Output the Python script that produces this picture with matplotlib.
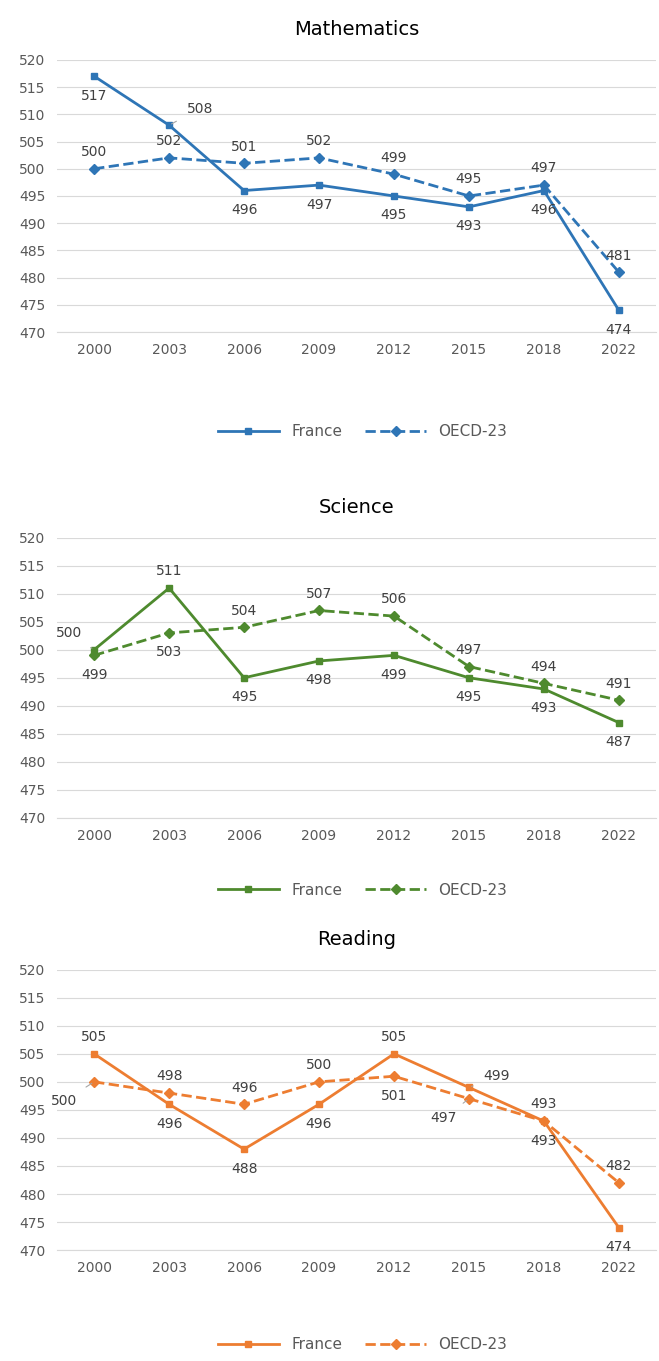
import matplotlib.pyplot as plt

years = ['2000', '2003', '2006', '2009', '2012', '2015', '2018', '2022']

math_france = [517, 508, 496, 497, 495, 493, 496, 474]
math_oecd = [500, 502, 501, 502, 499, 495, 497, 481]
sci_france = [500, 511, 495, 498, 499, 495, 493, 487]
sci_oecd = [499, 503, 504, 507, 506, 497, 494, 491]
read_france = [505, 496, 488, 496, 505, 499, 493, 474]
read_oecd = [500, 498, 496, 500, 501, 497, 493, 482]

# label offsets in points (dx, dy); leader line if 'lead'
math_fr_off = [(0, -14), (22, 12, 'lead'), (0, -14), (0, -14), (0, -14), (0, -14), (0, -14), (0, -14)]
math_oe_off = [(0, 12)] * 8
sci_fr_off = [(-18, 12, 'lead'), (0, 12), (0, -14), (0, -14), (0, -14), (0, -14), (0, -14), (0, -14)]
sci_oe_off = [(0, -14), (0, -14), (0, 12), (0, 12), (0, 12), (0, 12), (0, 12), (0, 12)]
read_fr_off = [(0, 12), (0, -14), (0, -14), (0, -14), (0, 12), (20, 8, 'lead'), (0, 12), (0, -14)]
read_oe_off = [(-22, -14, 'lead'), (0, 12), (0, 12), (0, 12), (0, -14), (-18, -14, 'lead'), (0, -14), (0, 12)]

panels = [
    ('Mathematics', math_france, math_oecd, '#2E75B6', math_fr_off, math_oe_off, 0.756, 0.200, 0.683),
    ('Science', sci_france, sci_oecd, '#4E8A2E', sci_fr_off, sci_oe_off, 0.399, 0.206, 0.346),
    ('Reading', read_france, read_oecd, '#ED7D31', read_fr_off, read_oe_off, 0.0815, 0.206, 0.012),
]

fig = plt.figure(figsize=(6.59, 13.61), dpi=100)
x = list(range(len(years)))

for title, fr, oe, color, fr_off, oe_off, bottom, height, leg_y in panels:
    ax = fig.add_axes([0.086, bottom, 0.91, height])
    ax.plot(x, fr, color=color, lw=2, marker='s', ms=4, label='France')
    ax.plot(x, oe, color=color, lw=2, ls='--', marker='D', ms=5, label='OECD-23')
    for vals, offs in ((fr, fr_off), (oe, oe_off)):
        for i, (v, o) in enumerate(zip(vals, offs)):
            kw = {}
            if len(o) > 2:
                kw['arrowprops'] = dict(arrowstyle='-', color='#A6A6A6', lw=0.8, shrinkA=6, shrinkB=2)
            ax.annotate(str(v), (i, v), xytext=(o[0], o[1]), textcoords='offset points',
                        ha='center', va='center', fontsize=10, color='#404040', **kw)
    ax.set_xlim(-0.5, 7.5)
    ax.set_ylim(470, 520)
    ax.set_yticks(range(470, 521, 5))
    ax.set_xticks(x)
    ax.set_xticklabels(years)
    ax.grid(axis='y', color='#D9D9D9', lw=0.8)
    ax.set_axisbelow(True)
    for s in ['top', 'right', 'left']:
        ax.spines[s].set_visible(False)
    ax.spines['bottom'].set_color('#D9D9D9')
    ax.tick_params(length=0, labelsize=10, colors='#595959', pad=8)
    ax.set_title(title, fontsize=14, color='#000000', pad=18)
    fig.legend(*ax.get_legend_handles_labels(), loc='center', bbox_to_anchor=(0.55, leg_y),
               ncol=2, frameon=False, fontsize=11, handlelength=4, columnspacing=1.5,
               labelcolor='#595959')

fig.savefig('out.png', dpi=100)
